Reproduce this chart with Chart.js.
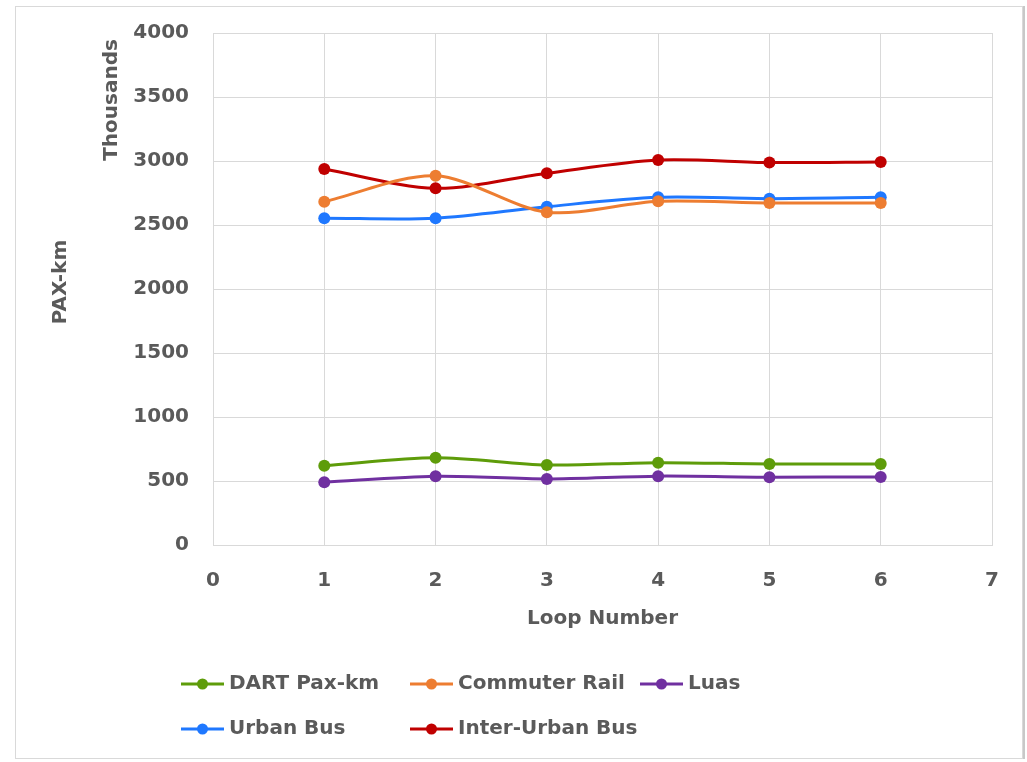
<!DOCTYPE html>
<html>
<head>
<meta charset="utf-8">
<script src="https://cdn.jsdelivr.net/npm/chart.js@4"></script>
<style>
  body { margin: 0; background: #fff; }
  #frame { position: absolute; left: 15px; top: 6px; width: 1006px; height: 751px; border: 1px solid #d9d9d9; box-shadow: 2px 0 0 #c8c8c8; }
  #wrap { position: absolute; left: 0; top: 0; width: 1027px; height: 762px; }
</style>
</head>
<body>
<div id="frame"></div>
<div id="wrap"><canvas id="paxChart" width="1027" height="762"></canvas></div>
<script>
const loops = [1, 2, 3, 4, 5, 6];
const dart = [620, 682, 625, 643, 633, 633];
const commuterRail = [2682, 2885, 2600, 2685, 2672, 2672];
const luas = [490, 537, 516, 538, 530, 532];
const urbanBus = [2553, 2553, 2643, 2716, 2706, 2716];
const interUrbanBus = [2937, 2787, 2904, 3008, 2988, 2992];

const seriesNames = ['DART Pax-km', 'Commuter Rail', 'Luas', 'Urban Bus', 'Inter-Urban Bus'];
const seriesColors = ['#5e9c0a', '#ed7d31', '#7030a0', '#1f78ff', '#c00000'];
const seriesValues = [dart, commuterRail, luas, urbanBus, interUrbanBus];

const textColor = '#5a5a5a';
const fontFamily = '"DejaVu Sans", sans-serif';
const labelFont = { family: fontFamily, size: 20, weight: 'bold' };

// legend in two rows with fixed columns, plus the axis titles placed like the Excel original
const legendPlugin = {
    id: 'excelLegend',
    afterDraw(chart) {
        const ctx = chart.ctx;
        const cols = [181, 410, 640];
        const rows = [684, 729];
        ctx.save();
        ctx.font = 'bold 20px ' + fontFamily;
        ctx.textBaseline = 'middle';
        chart.data.datasets.forEach((ds, i) => {
            const x = cols[i % 3];
            const y = rows[Math.floor(i / 3)];
            ctx.strokeStyle = ds.borderColor;
            ctx.lineWidth = 3;
            ctx.beginPath();
            ctx.moveTo(x, y);
            ctx.lineTo(x + 43, y);
            ctx.stroke();
            ctx.fillStyle = ds.backgroundColor;
            ctx.beginPath();
            ctx.arc(x + 21.5, y, 5.5, 0, Math.PI * 2);
            ctx.fill();
            ctx.fillStyle = textColor;
            ctx.fillText(ds.label, x + 48, y);
        });
        ctx.textAlign = 'center';
        ctx.save();
        ctx.translate(112, 100);
        ctx.rotate(-Math.PI / 2);
        ctx.fillText('Thousands', 0, 0);
        ctx.restore();
        ctx.translate(61, 282);
        ctx.rotate(-Math.PI / 2);
        ctx.fillText('PAX-km', 0, 0);
        ctx.restore();
    }
};

const ctx = document.getElementById('paxChart').getContext('2d');
const myChart = new Chart(ctx, {
    type: 'line',
    data: {
        datasets: seriesNames.map((name, i) => ({
            label: name,
            data: loops.map((x, j) => ({ x: x, y: seriesValues[i][j] })),
            borderColor: seriesColors[i],
            backgroundColor: seriesColors[i],
            borderWidth: 3,
            pointRadius: 6,
            pointBorderWidth: 0,
            pointHoverRadius: 6,
            tension: 0.3,
        }))
    },
    options: {
        responsive: false,
        animation: false,
        layout: { padding: { left: 0, top: 33, right: 35, bottom: 117 } },
        plugins: {
            legend: { display: false },
            tooltip: { enabled: false }
        },
        scales: {
            x: {
                type: 'linear',
                position: 'bottom',
                min: 0,
                max: 7,
                ticks: { stepSize: 1, color: textColor, font: labelFont, padding: 24 },
                grid: { color: '#d9d9d9', drawTicks: false },
                border: { color: '#d9d9d9' },
                title: { display: true, text: 'Loop Number', color: textColor, font: labelFont, padding: { top: 4, bottom: 14 } },
                afterFit: scale => { scale.height = 100; }
            },
            y: {
                type: 'linear',
                position: 'left',
                min: 0,
                max: 4000,
                ticks: { stepSize: 500, color: textColor, font: labelFont, padding: 24, format: { useGrouping: false } },
                grid: { color: '#d9d9d9', drawTicks: false },
                border: { color: '#d9d9d9' },
                afterFit: scale => {
                    scale.width = 213;
                    scale.paddingTop = 0;
                    scale.paddingBottom = 0;
                }
            }
        }
    },
    plugins: [legendPlugin]
});
</script>
</body>
</html>
